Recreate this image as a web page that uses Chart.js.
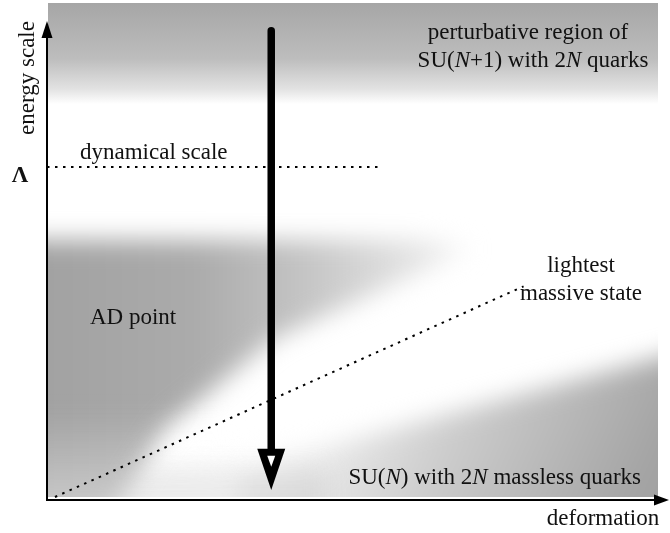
<!DOCTYPE html>
<html>
<head>
<meta charset="utf-8" />
<title>energy scale vs deformation</title>
<script src="https://cdn.jsdelivr.net/npm/chart.js"></script>
<style>
  html, body { margin: 0; padding: 0; background: #fff; }
  #wrap { width: 670px; height: 533px; }
</style>
</head>
<body>
<div id="wrap"><canvas id="diagram" width="670" height="533"></canvas></div>
<script>
// diagram values (x = deformation, y = energy scale, both 0..100)
const lambdaX = [0, 54.5];
const lambdaY = [67, 67];
const massiveX = [1.3, 78];
const massiveY = [0.6, 43];
const flowX = [36.7, 36.7];
const flowY = [94.4, 10.3];
const flowTipY = 2;

const FONT = "'Liberation Serif', 'Times New Roman', serif";

function toPts(xs, ys) {
  return xs.map((x, i) => ({ x: x, y: ys[i] }));
}

// pieces of text; each part: [text, italic]
function drawRich(ctx, parts, x, y, align, size) {
  let w = 0;
  parts.forEach(p => {
    ctx.font = (p[1] ? 'italic ' : '') + size + 'px ' + FONT;
    w += ctx.measureText(p[0]).width;
  });
  let cx = align === 'center' ? x - w / 2 : align === 'right' ? x - w : x;
  ctx.textAlign = 'left';
  ctx.textBaseline = 'middle';
  parts.forEach(p => {
    ctx.font = (p[1] ? 'italic ' : '') + size + 'px ' + FONT;
    ctx.fillText(p[0], cx, y);
    cx += ctx.measureText(p[0]).width;
  });
}

const shading = {
  id: 'shading',
  beforeDatasetsDraw(chart) {
    const ctx = chart.ctx;
    const a = chart.chartArea;
    const L = a.left + 1, R = a.right, T = a.top, B = a.bottom - 3;
    ctx.save();
    ctx.beginPath();
    ctx.rect(L, T, R - L, B - T);
    ctx.clip();

    // top band
    let g = ctx.createLinearGradient(0, T, 0, 104);
    g.addColorStop(0, '#a6a6a6');
    g.addColorStop(0.55, '#bdbdbd');
    g.addColorStop(0.85, '#e2e2e2');
    g.addColorStop(1, '#ffffff');
    ctx.fillStyle = g;
    ctx.fillRect(L, T, R - L, 104 - T);

    ctx.filter = 'blur(12px)';

    // bottom region, darker towards the lower right
    g = ctx.createLinearGradient(300, 360, 640, 510);
    g.addColorStop(0, '#fafafa');
    g.addColorStop(0.45, '#cdcdcd');
    g.addColorStop(1, '#a2a2a2');
    ctx.fillStyle = g;
    ctx.beginPath();
    ctx.moveTo(L - 30, B + 30);
    ctx.lineTo(L - 30, 470);
    ctx.lineTo(200, 462);
    ctx.lineTo(320, 448);
    ctx.lineTo(R + 30, 350);
    ctx.lineTo(R + 30, B + 30);
    ctx.closePath();
    ctx.fill();

    ctx.fillStyle = 'rgba(205,205,205,0.55)';
    ctx.fillRect(L - 20, 470, 300, 50);

    // AD point region
    g = ctx.createLinearGradient(L, 0, 470, 0);
    g.addColorStop(0, '#a2a2a2');
    g.addColorStop(0.35, '#ababab');
    g.addColorStop(0.62, '#c6c6c6');
    g.addColorStop(1, '#f4f4f4');
    ctx.fillStyle = g;
    ctx.beginPath();
    ctx.moveTo(L - 30, 240);
    ctx.lineTo(420, 240);
    ctx.lineTo(470, 248);
    ctx.lineTo(430, 268);
    ctx.lineTo(275, 338);
    ctx.lineTo(165, 428);
    ctx.lineTo(105, B + 30);
    ctx.lineTo(L - 30, B + 30);
    ctx.closePath();
    ctx.fill();

    // lighter towards the bottom left corner
    g = ctx.createLinearGradient(0, 410, 0, 500);
    g.addColorStop(0, 'rgba(255,255,255,0)');
    g.addColorStop(1, 'rgba(255,255,255,0.4)');
    ctx.fillStyle = g;
    ctx.fillRect(L - 30, 410, 220, 120);

    ctx.filter = 'none';
    ctx.restore();
  }
};

const overlay = {
  id: 'overlay',
  afterDatasetsDraw(chart) {
    const ctx = chart.ctx;
    const a = chart.chartArea;
    const xs = chart.scales.x, ys = chart.scales.y;
    const ox = a.left, oy = a.bottom;
    ctx.save();
    ctx.fillStyle = '#000';
    ctx.strokeStyle = '#000';

    // axes
    ctx.lineWidth = 2;
    ctx.beginPath();
    ctx.moveTo(ox, oy);
    ctx.lineTo(ox, 34);
    ctx.moveTo(ox - 1, oy);
    ctx.lineTo(656, oy);
    ctx.stroke();
    ctx.beginPath();
    ctx.moveTo(ox, 21);
    ctx.lineTo(ox - 5.5, 38);
    ctx.lineTo(ox + 5.5, 38);
    ctx.closePath();
    ctx.fill();
    ctx.beginPath();
    ctx.moveTo(669, oy);
    ctx.lineTo(654, oy - 5.5);
    ctx.lineTo(654, oy + 5.5);
    ctx.closePath();
    ctx.fill();

    // head of the flow arrow
    const fx = xs.getPixelForValue(flowX[1]);
    const fy = ys.getPixelForValue(flowY[1]);
    const ty = ys.getPixelForValue(flowTipY);
    ctx.beginPath();
    ctx.moveTo(fx - 14, fy);
    ctx.lineTo(fx + 14, fy);
    ctx.lineTo(fx, ty);
    ctx.closePath();
    ctx.fill();
    ctx.fillStyle = '#fff';
    ctx.beginPath();
    ctx.moveTo(fx - 4, fy + 7);
    ctx.lineTo(fx + 4, fy + 7);
    ctx.lineTo(fx, fy + 18);
    ctx.closePath();
    ctx.fill();
    ctx.fillStyle = '#111';

    // labels
    const S = 23;
    drawRich(ctx, [['perturbative region of', false]], 528, 33, 'center', S);
    drawRich(ctx, [['SU(', false], ['N', true], ['+1) with 2', false], ['N', true], [' quarks', false]], 533, 61, 'center', S);
    drawRich(ctx, [['dynamical scale', false]], 80, 153, 'left', S);
    drawRich(ctx, [['AD point', false]], 90, 318, 'left', S);
    drawRich(ctx, [['lightest', false]], 581, 266, 'center', S);
    drawRich(ctx, [['massive state', false]], 581, 294, 'center', S);
    drawRich(ctx, [['SU(', false], ['N', true], [') with 2', false], ['N', true], [' massless quarks', false]], 641, 478, 'right', S);
    drawRich(ctx, [['deformation', false]], 603, 519, 'center', S);

    ctx.font = 'bold 23px ' + FONT;
    ctx.textAlign = 'center';
    ctx.textBaseline = 'middle';
    ctx.fillText('\u039B', 20, 176);

    ctx.save();
    ctx.translate(28, 78);
    ctx.rotate(-Math.PI / 2);
    drawRich(ctx, [['energy scale', false]], 0, 0, 'center', S);
    ctx.restore();

    ctx.restore();
  }
};

const dotted = {
  showLine: true,
  borderColor: '#000',
  borderWidth: 2,
  borderDash: [2.5, 5.5],
  pointRadius: 0
};

new Chart(document.getElementById('diagram'), {
  type: 'scatter',
  data: {
    datasets: [
      Object.assign({ label: 'dynamical scale', data: toPts(lambdaX, lambdaY) }, dotted),
      Object.assign({ label: 'lightest massive state', data: toPts(massiveX, massiveY) }, dotted),
      {
        label: 'flow',
        data: toPts(flowX, flowY),
        showLine: true,
        borderColor: '#000',
        borderWidth: 7.5,
        borderCapStyle: 'round',
        pointRadius: 0
      }
    ]
  },
  options: {
    responsive: false,
    animation: false,
    layout: { padding: { left: 47, right: 12, top: 3, bottom: 33 } },
    plugins: {
      legend: { display: false },
      tooltip: { enabled: false }
    },
    scales: {
      x: { type: 'linear', min: 0, max: 100, display: false },
      y: { type: 'linear', min: 0, max: 100, display: false }
    }
  },
  plugins: [shading, overlay]
});
</script>
</body>
</html>
